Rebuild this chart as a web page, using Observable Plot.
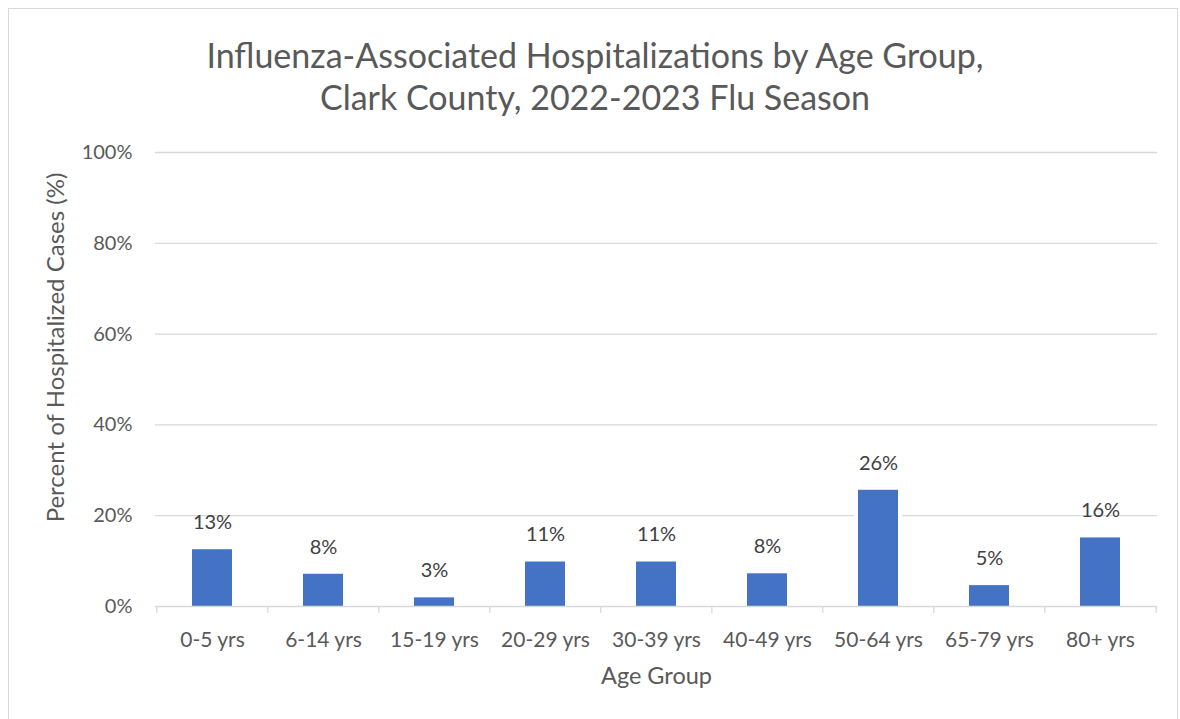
<!DOCTYPE html>
<html>
<head>
<meta charset="utf-8">
<script src="https://cdn.jsdelivr.net/npm/d3@7"></script>
<script src="https://cdn.jsdelivr.net/npm/@observablehq/plot@0.6"></script>
<style>
  body { margin: 0; background: #fff; }
  #wrap { position: relative; width: 1180px; height: 719px; overflow: hidden; font-family: Lato, "Open Sans", sans-serif; }
  #frame { position: absolute; left: 8px; top: 8px; width: 1170px; height: 730px; border: 1px solid #d9d9d9; box-sizing: border-box; }
  #title { position: absolute; left: 0; top: 34px; width: 1190px; text-align: center; font-size: 34px; line-height: 42px; color: #595959; }
  #chart { position: absolute; left: 0; top: 140px; }
</style>
</head>
<body>
<div id="wrap">
  <div id="frame"></div>
  <div id="title">Influenza-Associated Hospitalizations by Age Group,<br>Clark County, 2022-2023 Flu Season</div>
  <div id="chart"></div>
</div>
<script>
const ageGroups = ["0-5 yrs", "6-14 yrs", "15-19 yrs", "20-29 yrs", "30-39 yrs", "40-49 yrs", "50-64 yrs", "65-79 yrs", "80+ yrs"];
const percentValues = [12.5, 7.1, 1.9, 9.8, 9.8, 7.2, 25.6, 4.6, 15.1];
const valueLabels = ["13%", "8%", "3%", "11%", "11%", "8%", "26%", "5%", "16%"];
const yTicks = [0, 20, 40, 60, 80, 100];
const gridTicks = [20, 40, 60, 80, 100];
const yTitle = "Percent of Hospitalized Cases (%)";
const xTitle = "Age Group";

const data = ageGroups.map((g, i) => ({group: g, value: percentValues[i], label: valueLabels[i]}));

const W = 1180, H = 579, mL = 155, mR = 23, mT = 12, mB = 113;
const plotH = H - mT - mB;
const step = (W - mL - mR) / ageGroups.length;

const chart = Plot.plot({
  width: W, height: H,
  marginLeft: mL, marginRight: mR, marginTop: mT, marginBottom: mB,
  style: {fontFamily: "Lato, 'Open Sans', sans-serif", background: "transparent", overflow: "visible"},
  x: {domain: ageGroups, paddingInner: 0.64, paddingOuter: 0.32, label: null},
  y: {domain: [0, 100], label: null},
  marks: [
    Plot.ruleY(gridTicks, {stroke: "#d9d9d9", strokeWidth: 1.3}),
    Plot.barY(data, {x: "group", y: "value", fill: "white", insetLeft: -4, insetRight: -4}),
    Plot.barY(data, {x: "group", y: "value", fill: "#4472C4"}),
    Plot.ruleY([0], {stroke: "#d9d9d9", strokeWidth: 1.3}),
    Plot.ruleX(ageGroups, {x: d => d, dx: -step / 2, stroke: "#d9d9d9", strokeWidth: 1.3, insetTop: plotH, insetBottom: -7}),
    Plot.ruleX([ageGroups[ageGroups.length - 1]], {x: d => d, dx: step / 2, stroke: "#d9d9d9", strokeWidth: 1.3, insetTop: plotH, insetBottom: -7}),
    Plot.text(data, {x: "group", y: "value", text: "label", dy: -27, fontSize: 20, fill: "#404040"}),
    Plot.axisY({ticks: yTicks, tickFormat: d => d + "%", tickSize: 0, tickPadding: 23, fontSize: 20, color: "#595959", label: null}),
    Plot.axisX({tickSize: 0, tickPadding: 26, fontSize: 21, color: "#595959", label: null}),
    Plot.text([yTitle], {frameAnchor: "left", textAnchor: "middle", lineAnchor: "middle", rotate: -90, dx: -99, dy: -32, fontSize: 24, fill: "#595959"}),
    Plot.text([xTitle], {frameAnchor: "bottom", lineAnchor: "middle", dy: 70, fontSize: 23.5, fill: "#595959"})
  ]
});
document.getElementById("chart").appendChild(chart);
</script>
</body>
</html>
